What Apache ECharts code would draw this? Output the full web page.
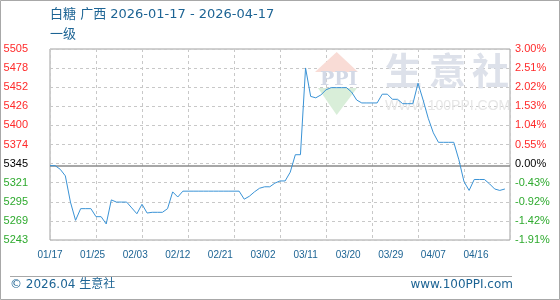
<!DOCTYPE html>
<html>
<head>
<meta charset="utf-8">
<script src="https://cdn.jsdelivr.net/npm/echarts@6/dist/echarts.min.js"></script>
<style>html,body{margin:0;padding:0;background:#fff}#c{width:560px;height:300px}</style>
</head>
<body>
<div id="c"></div>
<script>
var dates = [
'01/17','01/18','01/19','01/20','01/21','01/22','01/23','01/24','01/25','01/26','01/27','01/28','01/29','01/30','01/31',
'02/01','02/02','02/03','02/04','02/05','02/06','02/07','02/08','02/09','02/10','02/11','02/12','02/13','02/14','02/15','02/16','02/17','02/18','02/19','02/20','02/21','02/22','02/23','02/24','02/25','02/26','02/27','02/28',
'03/01','03/02','03/03','03/04','03/05','03/06','03/07','03/08','03/09','03/10','03/11','03/12','03/13','03/14','03/15','03/16','03/17','03/18','03/19','03/20','03/21','03/22','03/23','03/24','03/25','03/26','03/27','03/28','03/29','03/30','03/31',
'04/01','04/02','04/03','04/04','04/05','04/06','04/07','04/08','04/09','04/10','04/11','04/12','04/13','04/14','04/15','04/16','04/17'];
var prices = [
5345,5345,5340,5331,5295,5270,5286,5286,5286,5275,5275,5265,5298,5295,5295,
5295,5287,5279,5292,5280,5281,5281,5281,5286,5309,5302,5310,5310,5310,5310,5310,5310,5310,5310,5310,5310,5310,5310,5299,5303,5309,5314,5316,
5316,5321,5324,5324,5336,5360,5360,5479,5440,5438,5442,5449,5452,5452,5452,5452,5446,5435,5431,5431,5431,5431,5443,5443,5436,5436,5430,5430,5430,
5458,5435,5410,5390,5377,5377,5377,5377,5353,5323,5311,5326,5326,5326,5320,5313,5311,5313];
var xTickLabels = ['01/17','01/25','02/03','02/12','02/21','03/02','03/11','03/20','03/29','04/07','04/16'];
var leftTickLabels = ['5243','5269','5295','5321','5345','5374','5400','5426','5452','5478','5505'];
var rightTickLabels = ['-1.91%','-1.42%','-0.92%','-0.43%','0.00%','0.55%','1.04%','1.53%','2.02%','2.51%','3.00%'];
var basePrice = 5345;
var priceMin = 5243, priceMax = 5505;

function tagFor(i){ return i < 4 ? 'g' : (i === 4 ? 'k' : 'r'); }
var richLab = {
  r:{color:'#ff2a2a',fontFamily:'Liberation Sans',fontSize:11},
  k:{color:'#000',fontFamily:'Liberation Sans',fontSize:11},
  g:{color:'#2eaa2e',fontFamily:'Liberation Sans',fontSize:11}
};
var chart = echarts.init(document.getElementById('c'), null, {renderer:'canvas'});
var blue = '#1d6494';
var wmFont = 'bold 37px "Noto Sans CJK SC"';
chart.setOption({
  animation:false,
  backgroundColor:'#fff',
  grid:{left:50,right:50,top:49,bottom:60,show:true,borderColor:'#a0a0a0',borderWidth:1},
  graphic:[
    {type:'rect',shape:{x:0.5,y:0.5,width:559,height:299},style:{fill:null,stroke:'#a8a8a8',lineWidth:1},z:-10},
    {type:'line',shape:{x1:10,y1:276.5,x2:512,y2:276.5},style:{stroke:'#a8a8a8',lineWidth:1}},
    {type:'text',left:50,top:8,style:{text:'白糖 广西 2026-01-17 - 2026-04-17',fill:blue,font:'13px "DejaVu Sans","Noto Sans CJK SC"'}},
    {type:'text',left:50,top:28,style:{text:'一级',fill:blue,font:'13px "DejaVu Sans","Noto Sans CJK SC"'}},
    {type:'text',left:10,top:279,style:{text:'© 2026.04 生意社',fill:blue,font:'12px "DejaVu Sans","Noto Sans CJK SC"'}},
    {type:'text',right:47,top:279,style:{text:'www.100PPI.com',fill:blue,font:'12px "DejaVu Sans"'}},
    {type:'polygon',shape:{points:[[336.7,52],[315,72],[358,72]]},style:{fill:'#f9dcd6'},z:1},
    {type:'polygon',shape:{points:[[318,88],[357,88],[336.7,115]]},style:{fill:'#d9eed9'},z:1},
    {type:'text',x:320,y:71,style:{text:'PPI',fill:'#d3d9e6',font:'bold 19px "DejaVu Serif"'},z:1},
    {type:'text',x:385,y:52,style:{text:'生',fill:'#dde1ea',font:wmFont},z:1},
    {type:'text',x:429,y:52,style:{text:'意',fill:'#dde1ea',font:wmFont},z:1},
    {type:'text',x:472,y:52,style:{text:'社',fill:'#dde1ea',font:wmFont},z:1},
    {type:'text',x:385,y:99,style:{text:'WWW.100PPI.COM',fill:'#e6e6e6',font:'14px "Liberation Sans"'},z:1}
  ],
  xAxis:[
    {type:'category',data:dates,boundaryGap:false,
     axisLine:{show:false},axisTick:{show:false},axisLabel:{show:false},
     splitLine:{show:true,interval:8,lineStyle:{color:'#c8c8c8',type:[3,3],width:1}}},
    {type:'value',min:0,max:10.8,interval:1,position:'bottom',
     axisLine:{show:false},axisTick:{show:false},splitLine:{show:false},
     axisLabel:{margin:10,color:blue,fontFamily:'Liberation Sans',fontSize:10,showMaxLabel:false,
       formatter:function(v){var i=Math.round(v);return Math.abs(v-i)<1e-6&&xTickLabels[i]?xTickLabels[i]:'';}}}
  ],
  yAxis:[
    {type:'value',min:priceMin,max:priceMax,show:false,splitLine:{show:false}},
    {type:'value',min:0,max:10,interval:1,position:'left',
     axisLine:{show:false},axisTick:{show:false},
     splitLine:{show:true,lineStyle:{color:'#c8c8c8',type:[3,3],width:1}},
     axisLabel:{margin:22,rich:richLab,formatter:function(v){var k=Math.round(v);return '{'+tagFor(k)+'|'+leftTickLabels[k]+'}';}}},
    {type:'value',min:0,max:10,interval:1,position:'right',
     axisLine:{show:false},axisTick:{show:false},splitLine:{show:false},
     axisLabel:{margin:5,rich:richLab,formatter:function(v){var k=Math.round(v);return '{'+tagFor(k)+'|'+rightTickLabels[k]+'}';}}}
  ],
  series:[{
    type:'line',xAxisIndex:0,yAxisIndex:0,data:prices,showSymbol:false,symbol:'none',
    lineStyle:{color:'#3a93d6',width:1},z:5,
    markLine:{silent:true,symbol:'none',label:{show:false},
      lineStyle:{color:'#8a8a8a',type:'solid',width:1.5},data:[{yAxis:basePrice}]}
  }]
});
</script>
</body>
</html>
